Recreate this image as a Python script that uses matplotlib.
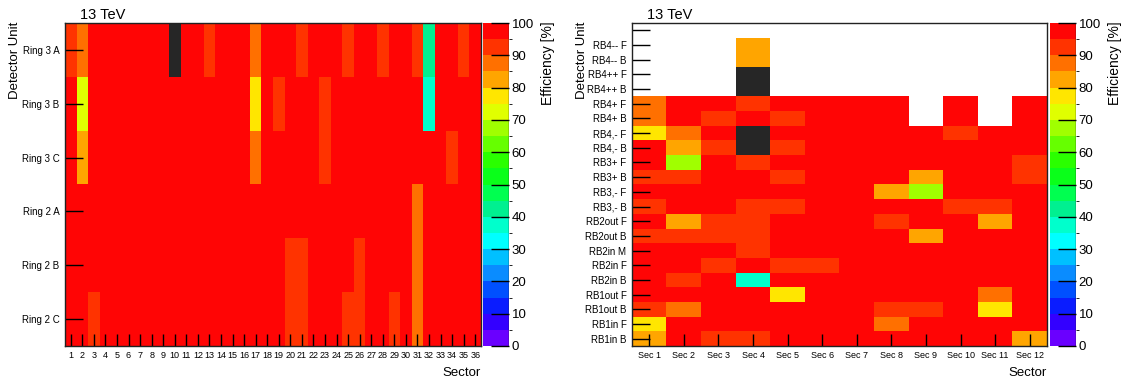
import numpy as np
import matplotlib
matplotlib.use('Agg')
import matplotlib.pyplot as plt
from matplotlib.colors import ListedColormap, BoundaryNorm

plt.rcParams['font.family'] = ['Liberation Sans', 'DejaVu Sans']

# efficiency values [%]; -1 = dead unit (dark), nan = no unit
N = np.nan
D = -1

ring_labels = ['Ring 3 A', 'Ring 3 B', 'Ring 3 C', 'Ring 2 A', 'Ring 2 B', 'Ring 2 C']
sector_labels = [str(i) for i in range(1, 37)]
ring_eff = [
    [92, 87, 98, 98, 98, 98, 98, 98, 98, D, 98, 98, 92, 98, 98, 98, 87, 98, 98, 98, 92, 98, 98, 98, 92, 98, 98, 92, 98, 98, 92, 42, 98, 98, 92, 98],
    [98, 72, 98, 98, 98, 98, 98, 98, 98, 98, 98, 98, 98, 98, 98, 98, 77, 98, 92, 98, 98, 98, 92, 98, 98, 98, 98, 98, 98, 98, 98, 37, 98, 98, 98, 98],
    [98, 82, 98, 98, 98, 98, 98, 98, 98, 98, 98, 98, 98, 98, 98, 98, 87, 98, 98, 98, 98, 98, 92, 98, 98, 98, 98, 98, 98, 98, 98, 98, 98, 92, 98, 98],
    [98, 98, 98, 98, 98, 98, 98, 98, 98, 98, 98, 98, 98, 98, 98, 98, 98, 98, 98, 98, 98, 98, 98, 98, 98, 98, 98, 98, 98, 98, 87, 98, 98, 98, 98, 98],
    [98, 98, 98, 98, 98, 98, 98, 98, 98, 98, 98, 98, 98, 98, 98, 98, 98, 98, 98, 92, 92, 98, 98, 98, 98, 92, 98, 98, 98, 98, 87, 98, 98, 98, 98, 98],
    [98, 98, 92, 98, 98, 98, 98, 98, 98, 98, 98, 98, 98, 98, 98, 98, 98, 98, 98, 92, 92, 98, 98, 98, 92, 92, 98, 98, 92, 98, 87, 98, 98, 98, 98, 98],
]

roll_labels = ['', 'RB4-- F', 'RB4-- B', 'RB4++ F', 'RB4++ B', 'RB4+ F', 'RB4+ B',
               'RB4,- F', 'RB4,- B', 'RB3+ F', 'RB3+ B', 'RB3,- F', 'RB3,- B',
               'RB2out F', 'RB2out B', 'RB2in M', 'RB2in F', 'RB2in B',
               'RB1out F', 'RB1out B', 'RB1in F', 'RB1in B']
sec_labels = ['Sec %d' % i for i in range(1, 13)]
roll_eff = [
    [N, N, N, N, N, N, N, N, N, N, N, N],
    [N, N, N, 82, N, N, N, N, N, N, N, N],
    [N, N, N, 82, N, N, N, N, N, N, N, N],
    [N, N, N, D, N, N, N, N, N, N, N, N],
    [N, N, N, D, N, N, N, N, N, N, N, N],
    [87, 98, 98, 92, 98, 98, 98, 98, N, 98, N, 98],
    [87, 98, 92, 98, 92, 98, 98, 98, N, 98, N, 98],
    [77, 87, 98, D, 98, 98, 98, 98, 98, 92, 98, 98],
    [98, 82, 92, D, 92, 98, 98, 98, 98, 98, 98, 98],
    [98, 67, 98, 92, 98, 98, 98, 98, 98, 98, 98, 92],
    [92, 92, 98, 98, 92, 98, 98, 98, 82, 98, 98, 92],
    [98, 98, 98, 98, 98, 98, 98, 82, 67, 98, 98, 98],
    [92, 98, 98, 92, 92, 98, 98, 98, 98, 92, 92, 98],
    [98, 82, 92, 92, 98, 98, 98, 92, 98, 98, 82, 98],
    [92, 92, 92, 92, 98, 98, 98, 98, 82, 98, 98, 98],
    [98, 98, 98, 92, 98, 98, 98, 98, 98, 98, 98, 98],
    [98, 98, 92, 98, 92, 92, 98, 98, 98, 98, 98, 98],
    [98, 92, 98, 37, 98, 98, 98, 98, 98, 98, 98, 98],
    [98, 98, 98, 98, 77, 98, 98, 98, 98, 98, 87, 98],
    [92, 87, 98, 98, 98, 98, 98, 92, 92, 98, 77, 98],
    [77, 98, 98, 98, 98, 98, 98, 87, 98, 98, 98, 98],
    [82, 98, 92, 92, 98, 98, 98, 98, 98, 98, 98, 82],
]

# 20-level rainbow palette, 0..100 in steps of 5
palette = ['#6a00ff', '#3300ff', '#0a1cff', '#0050ff', '#0a8cff',
           '#00c0ff', '#00ffff', '#00ffcc', '#00f090', '#00ff50',
           '#0aff1a', '#2aff00', '#66ff00', '#a0ff00', '#e0ff00',
           '#ffe600', '#ffa500', '#ff7000', '#ff3300', '#ff0505']
cmap = ListedColormap(palette)
cmap.set_under('#262626')
cmap.set_bad('white')
norm = BoundaryNorm(np.arange(0, 101, 5), cmap.N)

fig = plt.figure(figsize=(11.28, 3.81), dpi=100)
W, H = 1128.0, 381.0


def add_panel(x0, x1, cx0, data, ylabels, xlabels, xfs):
    ax = fig.add_axes([x0 / W, 35 / H, (x1 - x0) / W, 323 / H])
    arr = np.array(data, dtype=float)
    ny, nx = arr.shape
    im = ax.imshow(np.ma.masked_invalid(arr), cmap=cmap, norm=norm, aspect='auto',
                   interpolation='nearest', extent=(0.5, nx + 0.5, ny - 0.5, -0.5))
    ax.set_xticks(np.arange(1, nx + 1))
    ax.set_xticklabels(xlabels, fontsize=xfs)
    ax.set_yticks(np.arange(ny))
    ax.set_yticklabels(ylabels, fontsize=7)
    ax.tick_params(axis='y', direction='in', length=13, width=1, pad=4)
    ax.tick_params(axis='x', direction='in', length=9, width=1, pad=3.5)
    for s in ax.spines.values():
        s.set_linewidth(1)
        s.set_color('#222222')
    ax.set_xlim(0.5, nx + 0.5)
    ax.set_ylim(ny - 0.5, -0.5)

    cax = fig.add_axes([cx0 / W, 35 / H, 25.7 / W, 323 / H])
    cb = fig.colorbar(im, cax=cax, ticks=np.arange(0, 101, 10), extend='neither')
    cb.outline.set_visible(False)
    cax.tick_params(direction='in', length=13, width=1, labelsize=9.5, pad=2)
    cax.axvline(1.0, color='#222222', lw=1)

    fig.text(x0 / W + 15 / W, 1 - 19 / H, '13 TeV', fontsize=10.5, va='baseline')
    fig.text((x0 - 50) / W, 1 - 22 / H, 'Detector Unit', rotation=90, fontsize=9.5,
             ha='center', va='top')
    fig.text(x1 / W, 1 - 376 / H, 'Sector', fontsize=9.5, ha='right', va='baseline')
    fig.text((cx0 + 65) / W, 1 - 21 / H, 'Efficiency [%]', rotation=90, fontsize=10,
             ha='center', va='top')
    return ax


add_panel(65, 481, 483, ring_eff, ring_labels, sector_labels, 6.5)
add_panel(632, 1047, 1050, roll_eff, roll_labels, sec_labels, 6.5)

fig.savefig('out.png', dpi=100)
